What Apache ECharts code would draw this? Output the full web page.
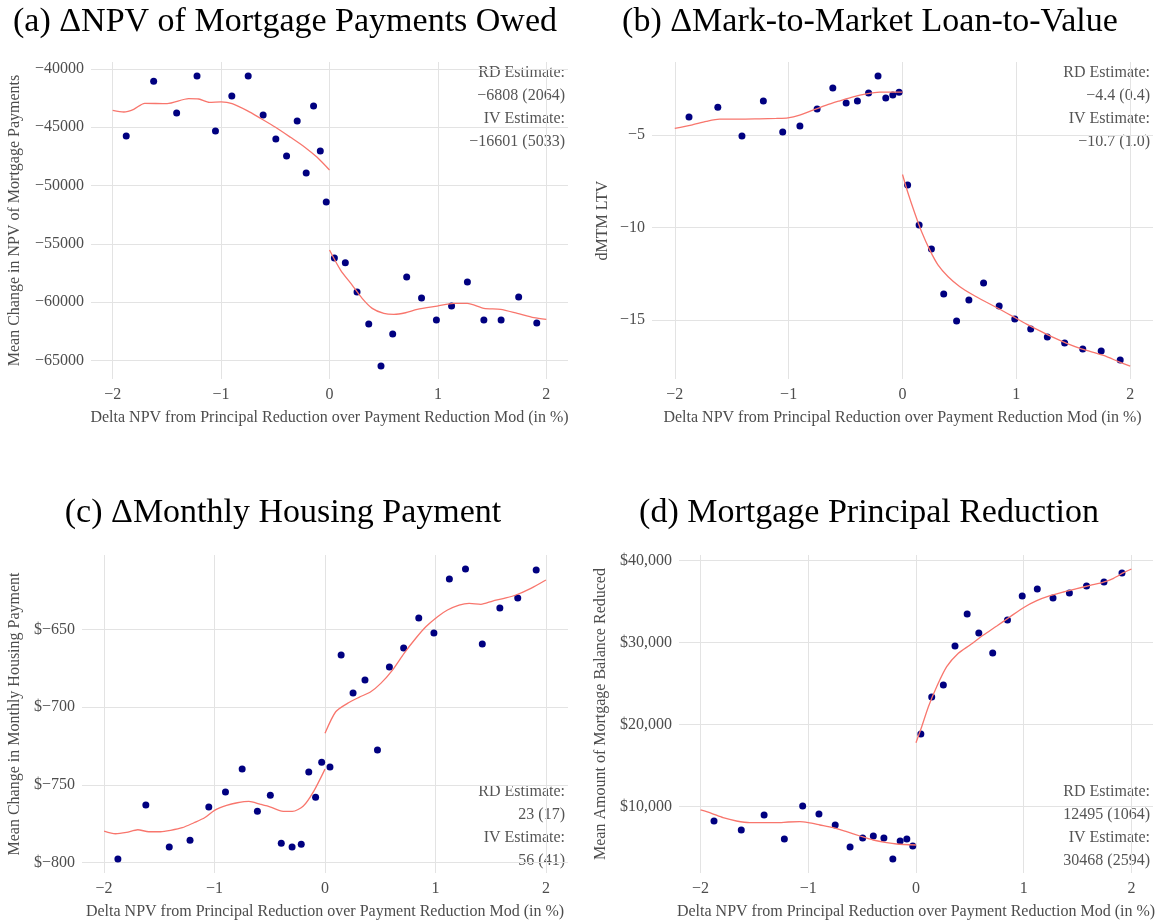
<!DOCTYPE html>
<html>
<head>
<meta charset="utf-8">
<script src="https://cdn.jsdelivr.net/npm/echarts@6/dist/echarts.min.js"></script>
<style>
html, body { margin: 0; padding: 0; background: #fff; }
#main { width: 1164px; height: 922px; }
</style>
</head>
<body>
<div id="main"></div>
<script>
// bin centres (same bins in every panel)
var binsL = [-1.875, -1.622, -1.410, -1.222, -1.052, -0.901, -0.750, -0.612, -0.495, -0.396, -0.298, -0.215, -0.147, -0.085, -0.030];
var binsR = [0.045, 0.146, 0.254, 0.362, 0.475, 0.583, 0.712, 0.849, 0.986, 1.126, 1.272, 1.424, 1.583, 1.745, 1.912];

// (a) NPV of mortgage payments owed
var aL = [-45750, -41050, -43780, -40600, -45320, -42320, -40600, -43950, -46010, -47470, -44460, -48930, -43180, -47040, -51410];
var aR = [-56220, -56620, -59140, -61890, -65490, -62740, -57850, -59650, -61540, -60340, -58280, -61540, -61540, -59570, -61800];
var aFitL = [[-2, -43545], [-1.898, -43690], [-1.806, -43460], [-1.705, -42945], [-1.498, -42975], [-1.299, -42550], [-1.206, -42575], [-1.108, -42860], [-1.0, -42830], [-0.898, -42975], [-0.760, -43575], [-0.637, -44230], [-0.498, -45000], [-0.360, -45860], [-0.222, -46750], [-0.114, -47580], [0, -48670]];
var aFitR = [[0, -55530], [0.102, -57250], [0.209, -58540], [0.301, -59680], [0.394, -60540], [0.501, -60970], [0.594, -61055], [0.701, -60915], [0.809, -60625], [0.994, -60340], [1.147, -60110], [1.271, -60110], [1.424, -60540], [1.578, -60625], [1.732, -60970], [1.886, -61340], [2.0, -61480]];

// (b) mark-to-market LTV
var bL = [-4.03, -3.49, -5.05, -3.16, -4.84, -4.51, -3.59, -2.46, -3.27, -3.16, -2.73, -1.81, -3.00, -2.84, -2.68];
var bR = [-7.70, -9.86, -11.16, -13.59, -15.05, -13.92, -13.00, -14.24, -14.95, -15.49, -15.92, -16.24, -16.57, -16.68, -17.16];
var bFitL = [[-2, -4.64], [-1.855, -4.46], [-1.723, -4.26], [-1.606, -4.14], [-1.430, -4.14], [-1.255, -4.12], [-1.108, -4.10], [-1.006, -4.07], [-0.903, -3.92], [-0.786, -3.65], [-0.668, -3.38], [-0.551, -3.15], [-0.434, -2.93], [-0.317, -2.77], [-0.2, -2.68], [-0.083, -2.68], [0, -2.68]];
var bFitR = [[0, -7.13], [0.049, -8.15], [0.108, -9.23], [0.167, -10.22], [0.240, -11.22], [0.313, -12.03], [0.401, -12.66], [0.504, -13.20], [0.621, -13.65], [0.738, -14.04], [0.855, -14.42], [0.972, -14.82], [1.09, -15.22], [1.207, -15.59], [1.324, -15.94], [1.442, -16.26], [1.559, -16.53], [1.676, -16.75], [1.793, -16.98], [1.896, -17.25], [2.0, -17.49]];

// (c) monthly housing payment
var cL = [-797.9, -763.1, -790.2, -785.7, -764.4, -754.7, -739.9, -767.0, -756.7, -787.7, -790.2, -788.3, -741.8, -758.0, -735.4];
var cR = [-738.6, -666.3, -690.8, -682.5, -727.6, -674.1, -661.8, -642.5, -652.1, -617.3, -610.8, -659.2, -636.0, -629.5, -611.5];
var cFitL = [[-2, -779.9], [-1.897, -781.6], [-1.797, -780.7], [-1.695, -779.0], [-1.595, -780.3], [-1.489, -780.3], [-1.398, -779.4], [-1.292, -777.7], [-1.187, -774.5], [-1.09, -771.3], [-1.0, -766.5], [-0.891, -763.3], [-0.794, -761.6], [-0.689, -760.7], [-0.589, -762.5], [-0.492, -764.4], [-0.392, -767.0], [-0.296, -767.2], [-0.196, -763.7], [-0.1, -753.9], [0, -739.9]];
var cFitR = [[0, -716.8], [0.097, -702.9], [0.203, -697.5], [0.308, -693.6], [0.414, -690.0], [0.505, -684.6], [0.611, -676.0], [0.716, -665.2], [0.822, -655.5], [0.913, -648.1], [1.019, -641.6], [1.109, -637.3], [1.214, -634.1], [1.305, -633.0], [1.411, -633.6], [1.517, -631.5], [1.622, -629.7], [1.728, -627.6], [1.864, -623.3], [2.0, -617.9]];

// (d) principal reduction
var dL = [8207, 7110, 8940, 6012, 10037, 9061, 7720, 5037, 6134, 6378, 6134, 3573, 5768, 6012, 5159];
var dR = [18817, 23329, 24793, 29549, 33451, 31134, 28695, 32719, 35646, 36500, 35402, 36012, 36865, 37353, 38450];
var dFitL = [[-2, 9550], [-1.899, 9146], [-1.791, 8610], [-1.667, 8207], [-1.543, 8000], [-1.419, 8000], [-1.295, 8000], [-1.186, 8085], [-1.078, 8122], [-1.0, 8000], [-0.892, 7720], [-0.768, 7390], [-0.644, 6902], [-0.520, 6378], [-0.397, 5890], [-0.272, 5561], [-0.179, 5402], [0, 5280]];
var dFitR = [[0, 17756], [0.053, 19707], [0.115, 22146], [0.192, 24585], [0.285, 27024], [0.393, 28655], [0.502, 29671], [0.626, 30890], [0.750, 31988], [0.874, 33122], [0.997, 34220], [1.121, 35073], [1.245, 35683], [1.369, 36134], [1.493, 36537], [1.617, 36951], [1.741, 37353], [1.834, 37805], [1.927, 38488], [2.0, 38939]];

// tick labels
var xTicks = [-2, -1, 0, 1, 2];
var aTicks = [-65000, -60000, -55000, -50000, -45000, -40000];
var bTicks = [-15, -10, -5];
var cTicks = [-800, -750, -700, -650];
var dTicks = [10000, 20000, 30000, 40000];

var titles = ['(a) \u0394NPV of Mortgage Payments Owed', '(b) \u0394Mark-to-Market Loan-to-Value',
	'(c) \u0394Monthly Housing Payment', '(d) Mortgage Principal Reduction'];
var yNames = ['Mean Change in NPV of Mortgage Payments', 'dMTM LTV',
	'Mean Change in Monthly Housing Payment', 'Mean Amount of Mortgage Balance Reduced'];
var xName = 'Delta NPV from Principal Reduction over Payment Reduction Mod (in %)';
var notes = [
	['RD Estimate:', '\u22126808 (2064)', 'IV Estimate:', '\u221216601 (5033)'],
	['RD Estimate:', '\u22124.4 (0.4)', 'IV Estimate:', '\u221210.7 (1.0)'],
	['RD Estimate:', '23 (17)', 'IV Estimate:', '56 (41)'],
	['RD Estimate:', '12495 (1064)', 'IV Estimate:', '30468 (2594)']
];

var FONT = '"Liberation Serif", "Times New Roman", serif';
var GREY = '#4d4d4d';

function minus(v) {
	return String(v).replace('-', '\u2212');
}
function dollar(v) {
	return '$' + minus(v);
}
function dollarComma(v) {
	return '$' + String(v).replace(/\B(?=(\d{3})+(?!\d))/g, ',');
}

// layout of each panel
var panels = [
	{ left: 91, top: 62, width: 477, height: 317, min: -66600, max: -39400, ticks: aTicks, fmt: minus, gap: 68, tx: 285, ty: 22, nx: 565, ny: 73, pts: [aL, aR], fit: [aFitL, aFitR] },
	{ left: 652, top: 62, width: 501, height: 317, min: -18.19, max: -1.05, ticks: bTicks, fmt: minus, gap: 41, tx: 870, ty: 22, nx: 1150, ny: 73, pts: [bL, bR], fit: [bFitL, bFitR] },
	{ left: 82, top: 555, width: 486, height: 318, min: -806.9, max: -601.8, ticks: cTicks, fmt: dollar, gap: 59, tx: 283, ty: 513, nx: 565, ny: 792, pts: [cL, cR], fit: [cFitL, cFitR] },
	{ left: 679, top: 555, width: 474, height: 318, min: 1866, max: 40646, ticks: dTicks, fmt: dollarComma, gap: 70, tx: 869, ty: 513, nx: 1150, ny: 792, pts: [dL, dR], fit: [dFitL, dFitR] }
];

var grids = [], xAxes = [], yAxes = [], series = [], graphics = [];

panels.forEach(function(p, i) {
	grids.push({ left: p.left, top: p.top, width: p.width, height: p.height, containLabel: false, outerBoundsMode: 'none' });
	xAxes.push({
		type: 'value', gridIndex: i, min: -2.2, max: 2.2,
		name: xName, nameLocation: 'middle', nameGap: 31, nameMoveOverlap: false,
		nameTextStyle: { fontFamily: FONT, fontSize: 16, color: GREY },
		axisLine: { show: false },
		axisTick: { show: false, customValues: xTicks },
		axisLabel: { customValues: xTicks, formatter: minus, margin: 8, fontFamily: FONT, fontSize: 16, color: GREY },
		splitLine: { show: true, lineStyle: { color: '#e3e3e3', width: 1 } }
	});
	yAxes.push({
		type: 'value', gridIndex: i, min: p.min, max: p.max,
		name: yNames[i], nameLocation: 'middle', nameGap: p.gap, nameRotate: 90, nameMoveOverlap: false,
		nameTextStyle: { fontFamily: FONT, fontSize: 16, color: GREY },
		axisLine: { show: false },
		axisTick: { show: false, customValues: p.ticks },
		axisLabel: { customValues: p.ticks, formatter: p.fmt, margin: 7, fontFamily: FONT, fontSize: 16, color: GREY },
		splitLine: { show: true, lineStyle: { color: '#e3e3e3', width: 1 } }
	});

	var pts = [];
	binsL.forEach(function(x, k) { pts.push([x, p.pts[0][k]]); });
	binsR.forEach(function(x, k) { pts.push([x, p.pts[1][k]]); });
	series.push({
		type: 'scatter', xAxisIndex: i, yAxisIndex: i, data: pts,
		symbolSize: 7, itemStyle: { color: '#000080', opacity: 1 }, z: 2
	});
	p.fit.forEach(function(seg) {
		series.push({
			type: 'line', xAxisIndex: i, yAxisIndex: i, data: seg,
			showSymbol: false, smooth: 0.25, z: 3,
			lineStyle: { color: '#f8766d', width: 1.3 }
		});
	});

	//标题
	graphics.push({
		type: 'text', x: p.tx, y: p.ty, silent: true,
		style: { text: titles[i], textAlign: 'center', textVerticalAlign: 'middle', font: '34px ' + FONT, fill: '#000' }
	});
	//RD / IV 估计值
	notes[i].forEach(function(t, k) {
		graphics.push({
			type: 'text', x: p.nx, y: p.ny + k * 23, silent: true,
			style: { text: t, textAlign: 'right', textVerticalAlign: 'middle', font: '16px ' + FONT, fill: '#555' }
		});
	});
});

var myChart = echarts.init(document.getElementById('main'), null, { renderer: 'canvas' });
myChart.setOption({
	animation: false,
	backgroundColor: '#fff',
	grid: grids,
	xAxis: xAxes,
	yAxis: yAxes,
	series: series,
	graphic: graphics
});
</script>
</body>
</html>
